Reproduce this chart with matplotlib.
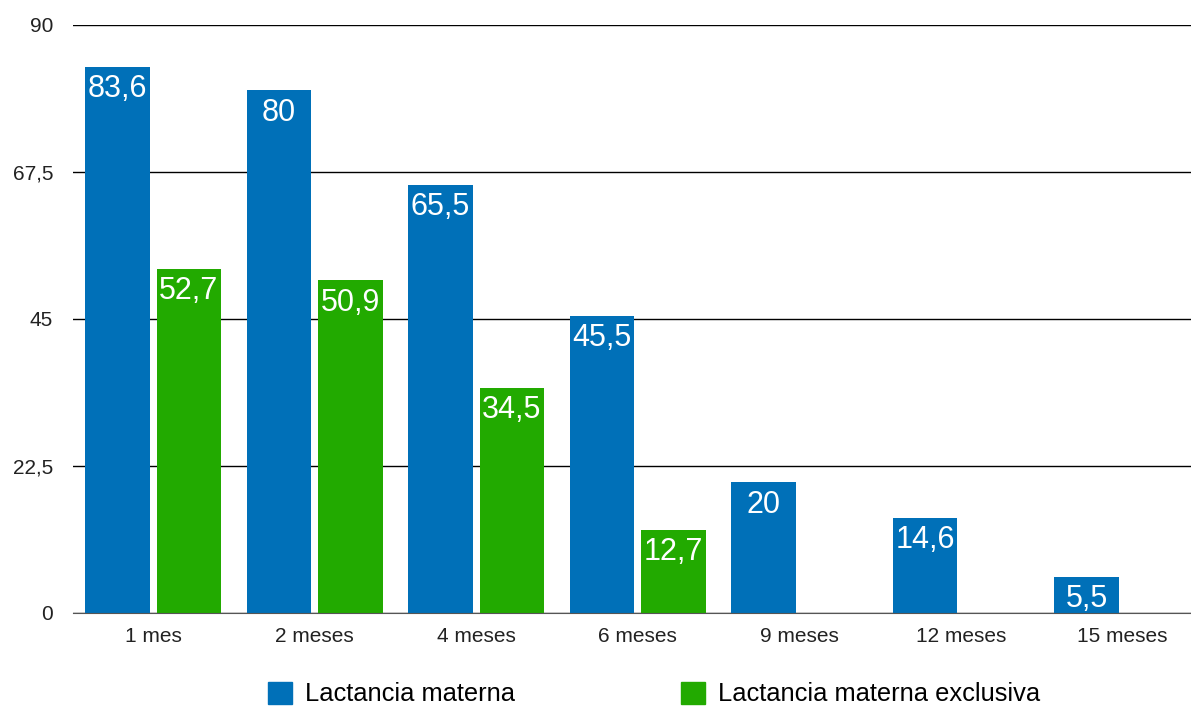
import numpy as np
import matplotlib.pyplot as plt
from matplotlib.patches import Patch

plt.rcParams['font.family'] = ['Liberation Sans', 'DejaVu Sans']

categories = ["1 mes", "2 meses", "4 meses", "6 meses", "9 meses", "12 meses", "15 meses"]
lactancia = [83.6, 80, 65.5, 45.5, 20, 14.6, 5.5]
exclusiva = [52.7, 50.9, 34.5, 12.7, None, None, None]
yticks = [0, 22.5, 45, 67.5, 90]

blue = "#0070B8"
green = "#22AA00"


def fmt(v):
    s = "{:g}".format(v)
    return s.replace(".", ",")


fig = plt.figure(figsize=(11.91, 7.06), dpi=100)
# axes runs a little past the right edge, like the original
ax = fig.add_axes([72.5 / 1191, 1 - 613 / 706, 1130.5 / 1191, (613 - 25) / 706])

x = np.arange(len(categories))
w = 0.40
off = 0.221
excl = np.array([np.nan if v is None else v for v in exclusiva], dtype=float)

b1 = ax.bar(x - off, lactancia, w, color=blue, zorder=3)
b2 = ax.bar(x + off, excl, w, color=green, zorder=3)

for bars, vals in [(b1, lactancia), (b2, exclusiva)]:
    for r, v in zip(bars, vals):
        if v is None:
            continue
        ax.text(r.get_x() + r.get_width() / 2, v - 1.1, fmt(v), ha="center", va="top",
                color="white", fontsize=22, zorder=4)

ax.set_xlim(-0.5, len(categories) - 0.5)
ax.set_ylim(0, 90)
ax.set_yticks(yticks)
ax.set_yticklabels([fmt(v) for v in yticks])
ax.set_xticks(x)
ax.set_xticklabels(categories)
ax.tick_params(axis="both", length=0, labelsize=15, colors="#222222")
ax.tick_params(axis="y", pad=14)
ax.tick_params(axis="x", pad=10)
ax.yaxis.grid(True, color="black", linewidth=1, zorder=0)
for s in ["top", "right", "left"]:
    ax.spines[s].set_visible(False)
ax.spines["bottom"].set_color("#555555")
ax.spines["bottom"].set_zorder(5)

handles = [Patch(color=blue, label="Lactancia materna"),
           Patch(color=green, label="Lactancia materna exclusiva")]
fig.legend(handles=handles, loc="center", bbox_to_anchor=(0.549, 1 - 694 / 706), ncol=2,
           frameon=False, fontsize=18.4, handlelength=0.94, handleheight=0.94,
           columnspacing=6.5, handletextpad=0.5)

fig.savefig("out.png", dpi=100)
